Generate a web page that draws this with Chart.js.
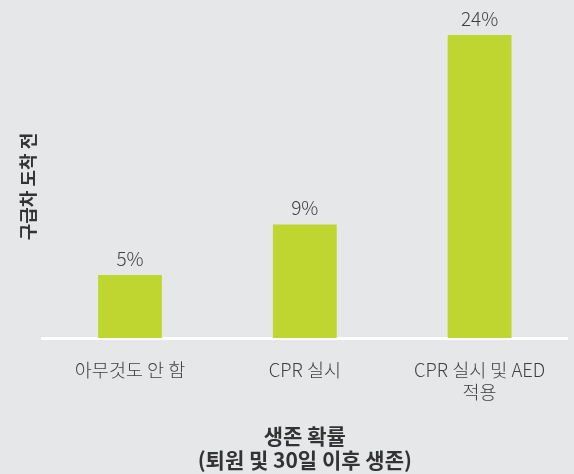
<!DOCTYPE html>
<html>
<head>
<meta charset="utf-8">
<script src="https://cdn.jsdelivr.net/npm/chart.js@4/dist/chart.umd.min.js"></script>
<style>
  html, body { margin: 0; padding: 0; background: #e6e7e9; }
  #wrap { width: 574px; height: 474px; }
</style>
</head>
<body>
<div id="wrap"><canvas id="survival"></canvas></div>
<script>
var categories = [["아무것도 안 함"], ["CPR 실시"], ["CPR 실시 및 AED", "적용"]];
var survival = [5, 9, 24];
var xTitle = ["생존 확률", "(퇴원 및 30일 이후 생존)"];
var yTitle = "구급차 도착 전";

var textColor = "#3f3f3f";
var fontFam = "'Noto Sans CJK KR', 'Noto Sans', sans-serif";

// labels above the bars
var valueLabels = {
  id: "valueLabels",
  afterDatasetsDraw: function(chart) {
    var ctx = chart.ctx;
    var meta = chart.getDatasetMeta(0);
    ctx.save();
    ctx.font = "300 19px " + fontFam;
    ctx.fillStyle = textColor;
    ctx.textAlign = "center";
    ctx.textBaseline = "alphabetic";
    meta.data.forEach(function(bar, i) {
      ctx.fillText(survival[i] + "%", bar.x, bar.y - 9);
    });
    ctx.restore();
  }
};

var ctx = document.getElementById("survival").getContext("2d");
var chart = new Chart(ctx, {
  type: "bar",
  data: {
    labels: categories,
    datasets: [{
      data: survival,
      backgroundColor: "#bfd630",
      borderWidth: 0,
      categoryPercentage: 1,
      barPercentage: 0.365
    }]
  },
  options: {
    responsive: true,
    maintainAspectRatio: false,
    animation: false,
    layout: { padding: { top: 35, left: 13, right: 7, bottom: 2 } },
    plugins: {
      legend: { display: false },
      tooltip: { enabled: false }
    },
    scales: {
      x: {
        grid: { display: false, drawTicks: false },
        border: { display: true, color: "#ffffff", width: 3 },
        ticks: {
          color: textColor,
          padding: 21,
          maxRotation: 0,
          autoSkip: false,
          font: { family: fontFam, size: 18.5, weight: 300, lineHeight: "22px" }
        },
        title: {
          display: true,
          text: xTitle,
          color: "#333333",
          padding: { top: 0, bottom: 0 },
          font: { family: fontFam, size: 21, weight: "bold", lineHeight: "24px" }
        }
      },
      y: {
        min: 0,
        max: 24,
        grid: { display: false, drawTicks: false },
        border: { display: false },
        ticks: { display: false },
        title: {
          display: true,
          text: yTitle,
          color: "#333333",
          padding: { top: 4, bottom: 4 },
          font: { family: fontFam, size: 18, weight: "bold" }
        }
      }
    }
  },
  plugins: [valueLabels]
});
</script>
</body>
</html>
